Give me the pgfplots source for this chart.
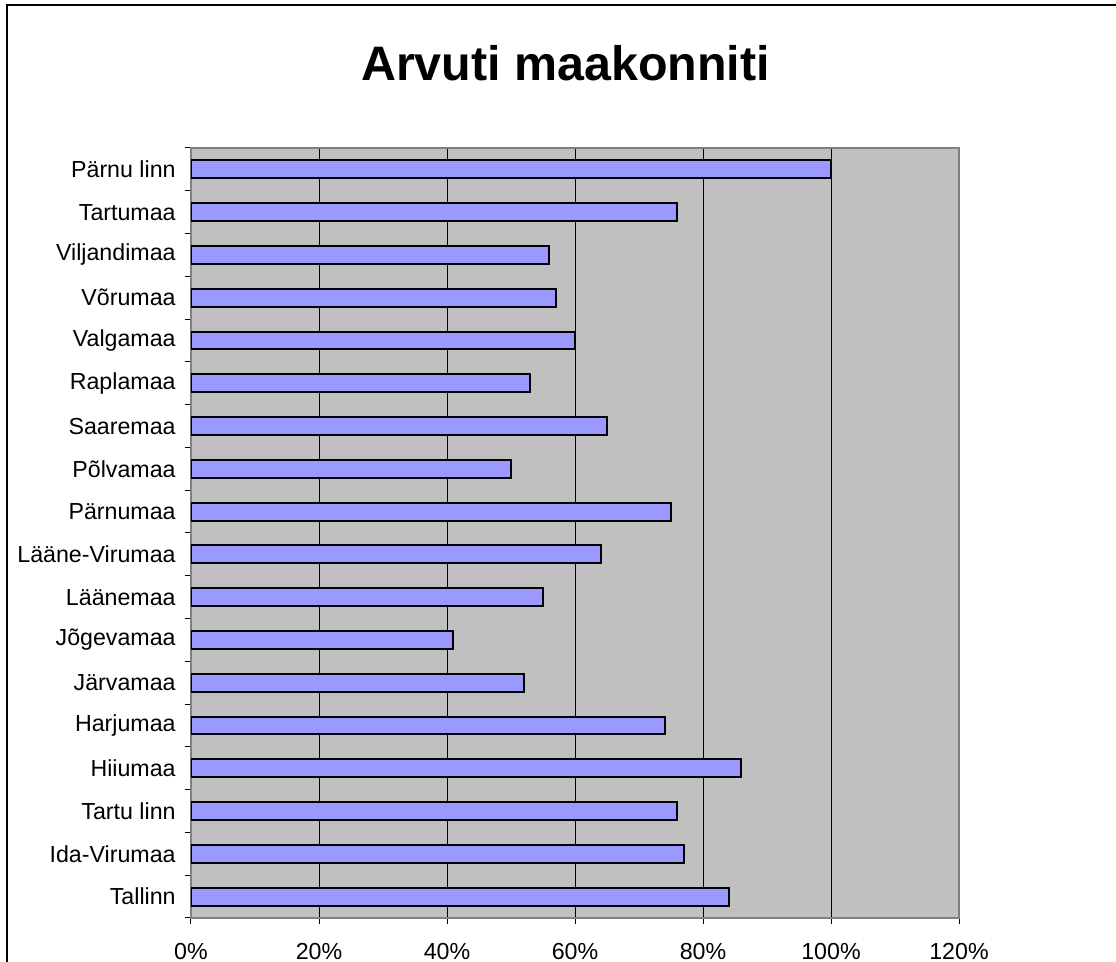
\documentclass[border=0pt]{standalone}
\usepackage{fontspec}
\setmainfont{Liberation Sans}
\usepackage{pgfplots}
\pgfplotsset{compat=1.18}
\definecolor{barfill}{HTML}{9999FF}
\definecolor{bg}{HTML}{C0C0C0}
\definecolor{border}{HTML}{808080}
\begin{document}
\begin{tikzpicture}[x=0.5pt,y=0.5pt]
\path[use as bounding box] (0,0) rectangle (1116,962);
\draw[black, line width=0.8pt] (7,0) -- (7,957) -- (1116,957);
\node[font=\fontsize{24.2}{28}\selectfont\bfseries] at (565.5,899) {Arvuti maakonniti};
\begin{axis}[
  at={(95.5pt,22pt)}, anchor=south west,
  width=384pt, height=385pt, scale only axis,
  xbar, bar width=0.42,
  xmin=0, xmax=120, ymin=-0.5, ymax=17.5,
  axis background/.style={fill=bg},
  axis line style={border, line width=0.9pt},
  xtick={0,20,40,60,80,100,120},
  xticklabels={0\%,20\%,40\%,60\%,80\%,100\%,120\%},
  xmajorgrids, grid style={black, line width=0.5pt},
  ytick={0,...,17},
  yticklabels={Tallinn,Ida-Virumaa,Tartu linn,Hiiumaa,Harjumaa,Järvamaa,Jõgevamaa,Läänemaa,Lääne-Virumaa,Pärnumaa,Põlvamaa,Saaremaa,Raplamaa,Valgamaa,Võrumaa,Viljandimaa,Tartumaa,Pärnu linn},
  minor ytick={-0.5,0.5,...,17.5},
  tick align=outside,
  major tick length=3pt,
  minor tick length=3pt,
  ytick style={draw=none},
  minor y tick style={draw=black, line width=0.5pt},
  xtick style={black, line width=0.5pt},
  tick pos=left,
  ticklabel style={font=\fontsize{11.6}{13}\selectfont},
  yticklabel style={anchor=east, inner sep=0pt, xshift=-4.5pt},
  xticklabel style={anchor=north, inner sep=0pt, yshift=-9.5pt},
]
\addplot[fill=barfill, draw=black, line width=1pt] coordinates {
(84,0) (77,1) (76,2) (86,3) (74,4) (52,5) (41,6) (55,7) (64,8) (75,9) (50,10) (65,11) (53,12) (60,13) (57,14) (56,15) (76,16) (100,17)
};
\end{axis}
\end{tikzpicture}
\end{document}
